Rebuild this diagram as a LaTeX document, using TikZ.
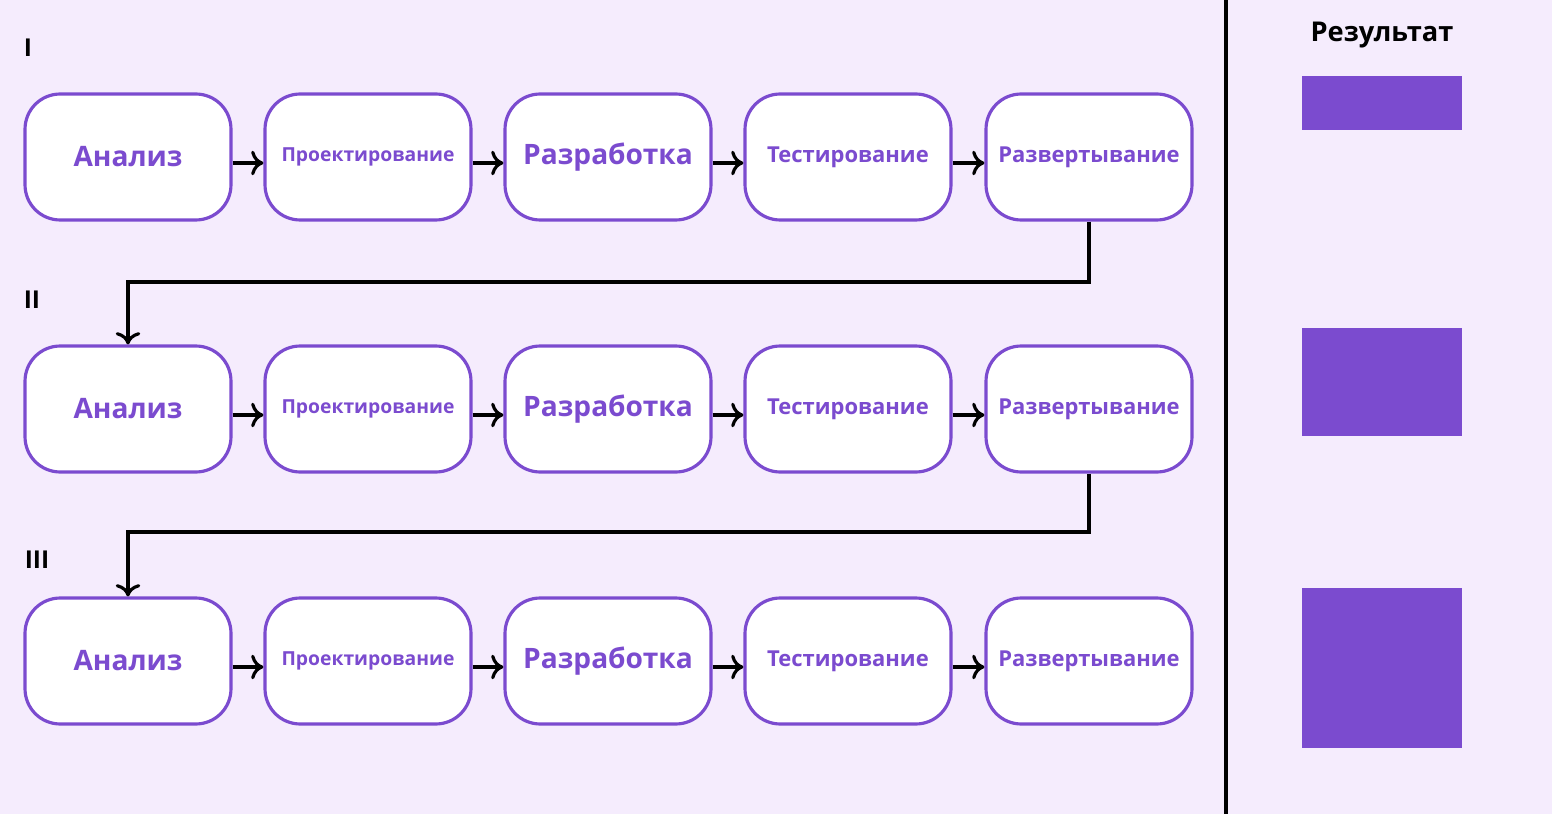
\documentclass[tikz,border=0pt]{standalone}
\usepackage{fontspec}
\setmainfont{Open Sans}
\usetikzlibrary{positioning,arrows.meta}
\definecolor{bgc}{HTML}{F5ECFD}
\definecolor{vio}{HTML}{7B4BCF}

\tikzset{
  stage/.style={draw=vio, line width=1.8pt, fill=white, rounded corners=20pt,
    minimum width=4.12cm, minimum height=2.52cm, text=vio, font=\bfseries, inner sep=0pt},
  flow/.style={-{To[length=7pt,width=14pt,line width=1.8pt]}, line width=1.8pt, black},
  result/.style={fill=vio, draw=none}
}

\begin{document}
\begin{tikzpicture}[x=0.02cm, y=-0.02cm]
% Background
\fill[bgc] (0,0) rectangle (1552,814);
\useasboundingbox (0,0) rectangle (1552,814);

% Divider and result column
\draw[line width=1.8pt] (1226,0) -- (1226,814);
\node[font=\bfseries\fontsize{15.5}{18}\selectfont] (res) at (1382,35) {Результат};
\fill[result] (1302,76) rectangle (1462,130);
\fill[result] (1302,328) rectangle (1462,436);
\fill[result] (1302,588) rectangle (1462,748);

% Three iterations
\foreach \r/\y/\lab/\lx/\ly in {1/157/I/28/48, 2/409/II/32/300, 3/661/III/37/560} {
  \node[font=\bfseries\fontsize{14}{16}\selectfont] (num\r) at (\lx,\ly) {\lab};
  \node[stage, font=\bfseries\fontsize{16}{18}\selectfont] (a\r) at (128,\y) {Анализ};
  \node[stage, font=\bfseries\fontsize{11}{13}\selectfont] (b\r) at (368,\y) {Проектирование};
  \node[stage, font=\bfseries\fontsize{16}{18}\selectfont] (c\r) at (608,\y) {Разработка};
  \node[stage, font=\bfseries\fontsize{12.5}{15}\selectfont] (d\r) at (848,\y) {Тестирование};
  \node[stage, font=\bfseries\fontsize{12.5}{15}\selectfont] (e\r) at (1089,\y) {Развертывание};
  \draw[flow] ([yshift=-0.12cm]a\r.east) -- ([yshift=-0.12cm]b\r.west);
  \draw[flow] ([yshift=-0.12cm]b\r.east) -- ([yshift=-0.12cm]c\r.west);
  \draw[flow] ([yshift=-0.12cm]c\r.east) -- ([yshift=-0.12cm]d\r.west);
  \draw[flow] ([yshift=-0.12cm]d\r.east) -- ([yshift=-0.12cm]e\r.west);
}

% Links between iterations
\draw[flow] (e1.south) |- (128,282) -- (a2.north);
\draw[flow] (e2.south) |- (128,532) -- (a3.north);
\end{tikzpicture}
\end{document}
